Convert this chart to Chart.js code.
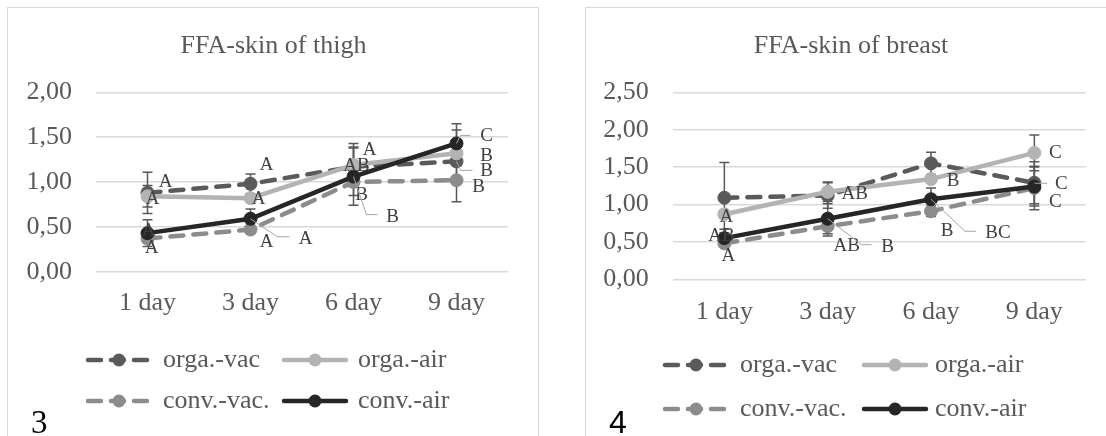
<!DOCTYPE html>
<html>
<head>
<meta charset="utf-8">
<script src="https://cdn.jsdelivr.net/npm/chart.js@4.4.1/dist/chart.umd.min.js"></script>
<style>
  body { margin: 0; width: 1106px; height: 436px; overflow: hidden; position: relative; background: #fff; }
  .panel { position: absolute; top: 7px; width: 530px; height: 440px; border: 1px solid #d9d9d9; }
  canvas { position: absolute; top: 8px; }
  .fig { position: absolute; top: 406px; color: #000; }
</style>
</head>
<body>
<div class="panel" style="left:7px"></div>
<div class="panel" style="left:585px"></div>
<canvas id="thighChart" width="530" height="428" style="left:8px"></canvas>
<canvas id="breastChart" width="520" height="428" style="left:586px"></canvas>
<div class="fig" style="left:31px;font:33px/33px 'Liberation Serif',serif">3</div>
<div class="fig" style="left:609px;font:32px/32px 'Liberation Sans',sans-serif">4</div>

<script>
const days = ['1 day', '3 day', '6 day', '9 day'];
const seriesNames = ['orga.-vac', 'orga.-air', 'conv.-vac.', 'conv.-air'];

// FFA, skin of thigh (mean, ± error, letters)
const thighOrgaVac = [0.88, 0.98, 1.17, 1.23];
const thighOrgaAir = [0.84, 0.82, 1.19, 1.32];
const thighConvVac = [0.37, 0.47, 1.00, 1.02];
const thighConvAir = [0.43, 0.59, 1.06, 1.43];
const thighOrgaVacErr = [0.23, 0.11, 0.22, 0.05];
const thighOrgaAirErr = [0.12, 0.04, 0.24, 0.26];
const thighConvVacErr = [0.05, 0.04, 0.15, 0.24];
const thighConvAirErr = [0.15, 0.11, 0.32, 0.22];
const thighOrgaVacSig = ['A', 'A', 'A', 'B'];
const thighOrgaAirSig = ['A', 'A', 'AB', 'B'];
const thighConvVacSig = ['A', 'A', 'B', 'B'];
const thighConvAirSig = ['A', 'A', 'B', 'C'];

// FFA, skin of breast
const breastOrgaVac = [1.09, 1.12, 1.55, 1.29];
const breastOrgaAir = [0.87, 1.17, 1.34, 1.69];
const breastConvVac = [0.48, 0.71, 0.91, 1.22];
const breastConvAir = [0.55, 0.81, 1.07, 1.24];
const breastOrgaVacErr = [0.47, 0.17, 0.15, 0.28];
const breastOrgaAirErr = [0.05, 0.13, 0.05, 0.24];
const breastConvVacErr = [0.05, 0.13, 0.07, 0.29];
const breastConvAirErr = [0.12, 0.20, 0.15, 0.26];
const breastOrgaVacSig = ['', '', '', 'C'];
const breastOrgaAirSig = ['A', 'AB', 'B', 'C'];
const breastConvVacSig = ['A', 'AB', 'B', 'C'];
const breastConvAirSig = ['AB', 'B', 'BC', ''];

const thighMax = 2;
const breastMax = 2.5;

// line styles per series
const colors = ['#5a5a5a', '#b3b3b3', '#8c8c8c', '#262626'];
const dashes = [[13, 10], [], [13, 10], []];

// letter placement relative to the point: [dx, dy, leader polyline]
const thighSigPos = [
  [[18, -11], [16, -19], [16, -17], [30, 10, [[4, 9], [16, 9]]]],
  [[5, 3], [8, 1], [3, 1], [30, 3]],
  [[4, 10], [16, 12], [8, 13], [22, 7]],
  [[1, -2], [55, 20, [[27, 18], [39, 18]]], [39, 40, [[13, 38], [24, 38]]], [30, -7, [[4, -8], [14, -8]]]]
];
const breastSigPos = [
  [null, null, null, [27, 1, [[1, 0.5], [13, 0.5]]]],
  [[2, 3], [27, 2], [22, 2], [21, 0]],
  [[4, 13], [19, 20], [16, 20], [21, 14]],
  [[-3, -2], [60, 28, [[34, 26], [44, 26]]], [67, 34, [[34, 32], [45, 32]]], null]
];

const serif = "'Liberation Serif', 'Times New Roman', serif";
const grey = '#595959';

const errorBars = {
  id: 'errorBars',
  beforeDatasetsDraw(chart) {
    const { ctx, scales: { y } } = chart;
    ctx.save();
    ctx.strokeStyle = grey;
    ctx.lineWidth = 1.5;
    chart.data.datasets.forEach((ds, i) => {
      chart.getDatasetMeta(i).data.forEach((pt, j) => {
        const hi = y.getPixelForValue(ds.data[j] + ds.errors[j]);
        const lo = y.getPixelForValue(ds.data[j] - ds.errors[j]);
        ctx.beginPath();
        ctx.moveTo(pt.x, hi); ctx.lineTo(pt.x, lo);
        ctx.moveTo(pt.x - 5, hi); ctx.lineTo(pt.x + 5, hi);
        ctx.moveTo(pt.x - 5, lo); ctx.lineTo(pt.x + 5, lo);
        ctx.stroke();
      });
    });
    ctx.restore();
  }
};

const sigLetters = {
  id: 'sigLetters',
  afterDatasetsDraw(chart) {
    const ctx = chart.ctx;
    ctx.save();
    ctx.font = '19px ' + serif;
    ctx.textAlign = 'center';
    ctx.textBaseline = 'middle';
    chart.data.datasets.forEach((ds, i) => {
      chart.getDatasetMeta(i).data.forEach((pt, j) => {
        const txt = ds.letters[j], p = ds.sigPos[j];
        if (!txt || !p) return;
        if (p[2]) {
          ctx.strokeStyle = '#a6a6a6';
          ctx.lineWidth = 1;
          ctx.beginPath();
          ctx.moveTo(pt.x, pt.y);
          p[2].forEach(q => ctx.lineTo(pt.x + q[0], pt.y + q[1]));
          ctx.stroke();
        }
        ctx.fillStyle = '#404040';
        ctx.fillText(txt, pt.x + p[0], pt.y + p[1]);
      });
    });
    ctx.restore();
  }
};

// title centred on the panel, legend in two columns below the axis
const panelText = {
  id: 'panelText',
  afterDraw(chart, args, opts) {
    const ctx = chart.ctx;
    ctx.save();
    ctx.fillStyle = grey;
    ctx.font = '26px ' + serif;
    ctx.textAlign = 'center';
    ctx.textBaseline = 'middle';
    ctx.fillText(opts.title, opts.titleX, opts.titleY);
    ctx.textAlign = 'left';
    chart.data.datasets.forEach((ds, i) => {
      const x0 = opts.cols[i % 2], y0 = opts.rows[Math.floor(i / 2)];
      ctx.strokeStyle = ds.borderColor;
      ctx.lineWidth = 4.5;
      ctx.lineCap = 'round';
      ctx.setLineDash(ds.borderDash);
      ctx.beginPath();
      ctx.moveTo(x0 + 2, y0);
      ctx.lineTo(x0 + 64, y0);
      ctx.stroke();
      ctx.setLineDash([]);
      ctx.fillStyle = ds.borderColor;
      ctx.beginPath();
      ctx.arc(x0 + 33, y0, 6.5, 0, Math.PI * 2);
      ctx.fill();
      ctx.fillStyle = grey;
      ctx.fillText(ds.label, opts.textX[i % 2], y0);
    });
    ctx.restore();
  }
};

function makeChart(id, series, errs, sigs, places, yMax, lay) {
  return new Chart(document.getElementById(id), {
    type: 'line',
    data: {
      labels: days,
      datasets: series.map((vals, i) => ({
        label: seriesNames[i],
        data: vals,
        errors: errs[i],
        letters: sigs[i],
        sigPos: places[i],
        borderColor: colors[i],
        backgroundColor: colors[i],
        borderDash: dashes[i],
        borderCapStyle: 'round',
        borderWidth: 4.5,
        pointRadius: 6.5,
        pointBorderWidth: 1,
        pointBackgroundColor: colors[i],
        pointBorderColor: colors[i],
        tension: 0,
        order: 3 - i
      }))
    },
    options: {
      responsive: false,
      devicePixelRatio: 1,
      animation: false,
      layout: { padding: { left: 0, right: lay.padRight, top: 84.3, bottom: lay.padBottom } },
      plugins: {
        legend: { display: false },
        tooltip: { enabled: false },
        panelText: lay.text
      },
      scales: {
        x: {
          offset: true,
          grid: { display: false, drawTicks: false },
          border: { display: false },
          ticks: { color: grey, font: { family: serif, size: 26 }, padding: lay.xPad, maxRotation: 0 },
          afterFit: s => { s.height = 60; }
        },
        y: {
          min: 0,
          max: yMax,
          ticks: {
            stepSize: 0.5,
            color: grey,
            padding: 24,
            font: { family: serif, size: 26 },
            callback: v => v.toFixed(2).replace('.', ',')
          },
          grid: { color: '#d9d9d9', lineWidth: 1.5, drawTicks: false },
          border: { display: false },
          afterFit: s => { s.width = lay.axisW; }
        }
      }
    },
    plugins: [errorBars, sigLetters, panelText]
  });
}

makeChart('thighChart',
  [thighOrgaVac, thighOrgaAir, thighConvVac, thighConvAir],
  [thighOrgaVacErr, thighOrgaAirErr, thighConvVacErr, thighConvAirErr],
  [thighOrgaVacSig, thighOrgaAirSig, thighConvVacSig, thighConvAirSig],
  thighSigPos, thighMax,
  { axisW: 88, padRight: 30, padBottom: 104.3, xPad: 16,
    text: { title: 'FFA-skin of thigh', titleX: 265.5, titleY: 38.6,
            cols: [78, 274], textX: [155, 350], rows: [352, 393] } });

makeChart('breastChart',
  [breastOrgaVac, breastOrgaAir, breastConvVac, breastConvAir],
  [breastOrgaVacErr, breastOrgaAirErr, breastConvVacErr, breastConvAirErr],
  [breastOrgaVacSig, breastOrgaAirSig, breastConvVacSig, breastConvAirSig],
  breastSigPos, breastMax,
  { axisW: 86.7, padRight: 20, padBottom: 96.7, xPad: 17,
    text: { title: 'FFA-skin of breast', titleX: 265, titleY: 38.6,
            cols: [77, 276], textX: [154, 349], rows: [357, 401] } });
</script>
</body>
</html>
